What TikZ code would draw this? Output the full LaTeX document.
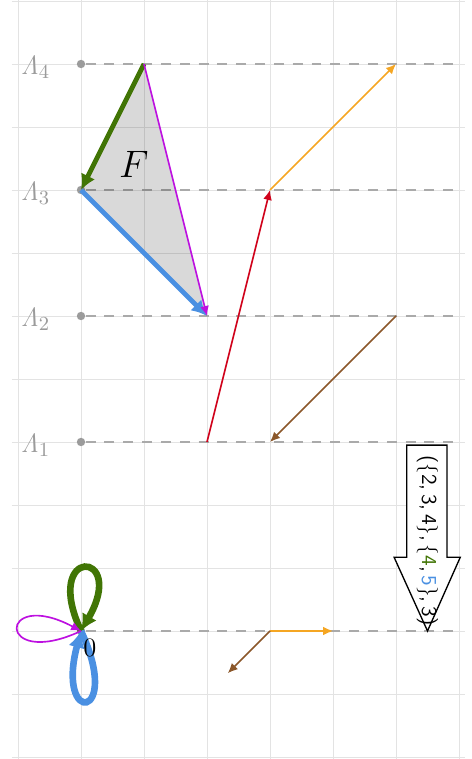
\documentclass[tikz,border=0pt]{standalone}
\usepackage{tikz}
\usetikzlibrary{shapes,arrows.meta,positioning}
\definecolor{vgreen}{HTML}{417505}
\definecolor{vblue}{HTML}{4A90E2}
\definecolor{vpurple}{HTML}{BD10E0}
\definecolor{vred}{HTML}{D0021B}
\definecolor{vorange}{HTML}{F5A623}
\definecolor{vbrown}{HTML}{8B572A}
\definecolor{vgray}{HTML}{9B9B9B}

\begin{document}
\begin{tikzpicture}[
  gridline/.style={draw=black!11, line width=0.4pt},
  level/.style={draw=vgray!85, dash pattern=on 4.5pt off 4pt, line width=0.7pt},
  ldot/.style={circle, fill=vgray, inner sep=0pt, minimum size=3.8pt},
  lam/.style={text=vgray, font=\fontsize{13.2}{15}\selectfont, inner sep=0pt, anchor=base east},
  vecthin/.style={line width=0.75pt, -{Latex[length=4.5pt,width=4pt]}},
  vecfat/.style={line width=2.2pt, -{Latex[length=7pt,width=7pt]}},
  loopfat/.style={line width=3pt, -{Latex[length=7.5pt,width=7.5pt]}},
]
\useasboundingbox (-1.286,-2.032) rectangle (6.206,10.016);
\draw[gridline] (-1.1,-2.032) grid (6.1,10.016);

% levels
\node[ldot] (o) at (0,0) {};
\coordinate (e0) at (6,0);
\draw[level] (o) -- (e0);
\foreach \k/\n in {3/1,5/2,7/3,9/4} {
  \node[ldot] (d\n) at (0,\k) {};
  \coordinate (e\n) at (6,\k);
  \draw[level] (d\n) -- (e\n);
  \node[lam] (lam\n) at (-0.48,\k-0.16) {$\mathit{\Lambda}_\n$};
}

% face F
\coordinate (t1) at (1,9);
\coordinate (t2) at (0,7);
\coordinate (t3) at (2,5);
\fill[black, fill opacity=0.15] (t1) -- (t2) -- (t3) -- cycle;
\draw[vecfat, vgreen] (t1) -- (t2);
\draw[vecfat, vblue] (t2) -- (t3);
\draw[vecthin, vpurple] (t1) -- (t3);
\node[font=\LARGE] (F) at (0.84,7.4) {$F$};

% path vectors
\coordinate (p1) at (2,3);
\coordinate (p2) at (3,7);
\coordinate (p3) at (5,9);
\coordinate (p4) at (5,5);
\coordinate (p5) at (3,3);
\draw[vecthin, vred] (p1) -- (p2);
\draw[vecthin, vorange] (p2) -- (p3);
\draw[vecthin, vbrown] (p4) -- (p5);

\coordinate (q0) at (3,0);
\coordinate (q1) at (4,0);
\coordinate (q2) at (2.33,-0.67);
\draw[vecthin, vorange] (q0) -- (q1);
\draw[vecthin, vbrown] (q0) -- (q2);

% loops at 0
\draw[loopfat, vgreen] (o.center) to[out=115, in=60, min distance=1.5cm] (o.center);
\draw[loopfat, vblue] (o.center) to[out=-65, in=-105, min distance=1.57cm] (o.center);
\draw[vecthin, vpurple] (o.center) to[out=205, in=152, min distance=1.5cm] (o.center);
\node[font=\fontsize{13.2}{15}\selectfont] (zero) at (0.14,-0.27) {$0$};

% tuple arrow
\draw[fill=white, line width=0.6pt] (5.17,2.95) -- (5.81,2.95) -- (5.81,1.17) -- (6.02,1.17)
  -- (5.5,0) -- (4.97,1.17) -- (5.17,1.17) -- cycle;
\node[rotate=-90, font=\sffamily, scale=0.96] (tuple) at (5.5,1.44)
  {(\{2,\,3,\,4\},\,\{\textcolor{vgreen}{4},\,\textcolor{vblue}{5}\},\,3)};
\end{tikzpicture}
\end{document}
